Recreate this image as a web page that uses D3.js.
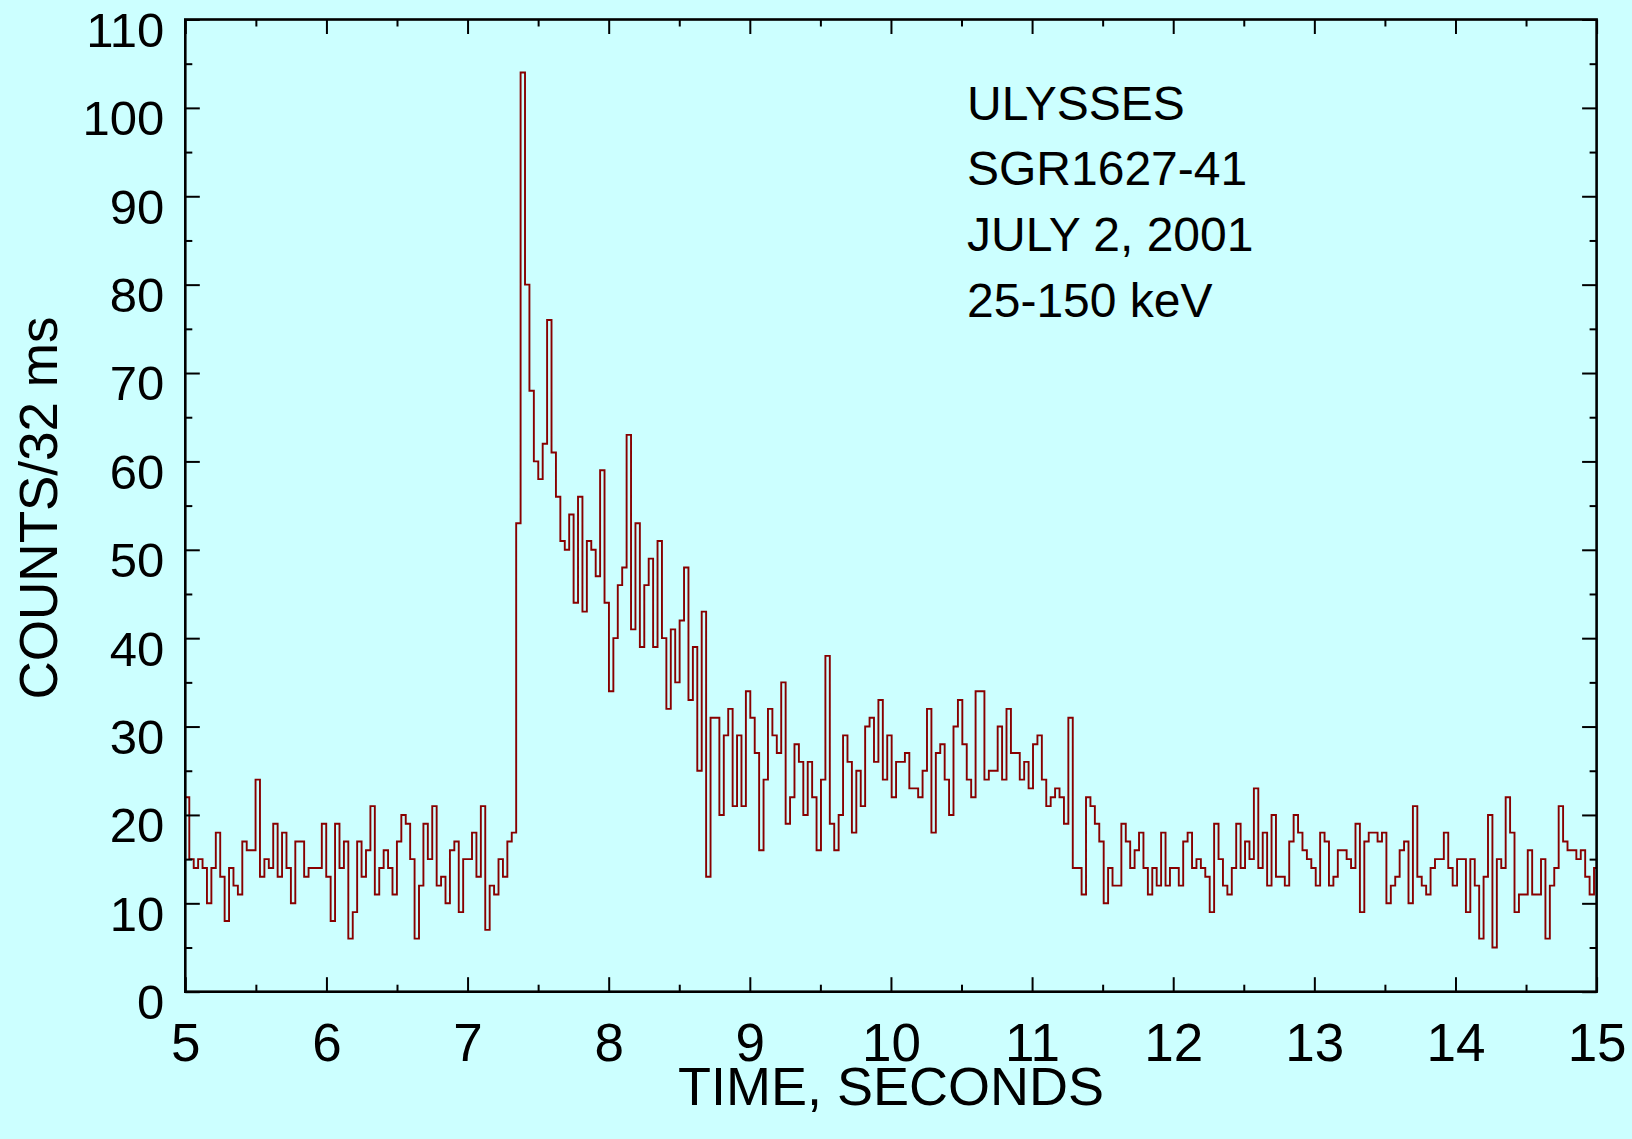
<!DOCTYPE html>
<html>
<head>
<meta charset="utf-8">
<script src="https://cdn.jsdelivr.net/npm/d3@7"></script>
<style>
  body { margin: 0; background: #ccffff; }
  svg { display: block; }
  text { font-family: "Liberation Sans", Arial, sans-serif; fill: #000; }
</style>
</head>
<body>
<div class="content"></div>
<script>
// counts per bin left to right
const counts = [
  22, 15, 14, 15, 14, 10, 14, 18, 13, 8, 14, 12, 11, 17, 16, 16, 24, 13, 15, 14, 19, 13, 18, 14, 10, 17, 17, 13, 14, 14, 14, 19,
  13, 8, 19, 14, 17, 6, 9, 17, 13, 16, 21, 11, 14, 16, 14, 11, 17, 20, 19, 15, 6, 12, 19, 15, 21, 12, 13, 10, 16, 17, 9, 15, 15,
  18, 13, 21, 7, 12, 11, 15, 13, 17, 18, 53, 104, 80, 68, 60, 58, 62, 76, 61, 56, 51, 50, 54, 44, 56, 43, 51, 50, 47, 59, 44,
  34, 40, 46, 48, 63, 41, 53, 39, 46, 49, 39, 51, 40, 32, 41, 35, 42, 48, 33, 39, 25, 43, 13, 31, 31, 20, 29, 32, 21, 29, 21, 34,
  31, 27, 16, 24, 32, 29, 27, 35, 19, 22, 28, 26, 20, 26, 22, 16, 24, 38, 19, 16, 20, 29, 26, 18, 25, 21, 30, 31, 26, 33, 24, 29, 22,
  26, 26, 27, 23, 23, 22, 25, 32, 18, 27, 28, 24, 20, 30, 33, 28, 24, 22, 34, 34, 24, 25, 25, 30, 24, 32, 27, 27, 24, 26, 23,
  28, 29, 24, 21, 22, 23, 22, 19, 31, 14, 14, 11, 22, 21, 19, 17, 10, 14, 12, 12, 19, 17, 14, 16, 18, 14, 11, 14, 12, 18, 12, 14,
  14, 12, 17, 18, 14, 15, 14, 13, 9, 19, 15, 12, 11, 14, 19, 14, 17, 15, 23, 14, 18, 12, 20, 13, 13, 12, 17, 20, 18, 16, 15, 14,
  12, 18, 17, 12, 13, 16, 16, 15, 14, 19, 9, 17, 18, 18, 17, 18, 10, 12, 13, 16, 17, 10, 21, 13, 12, 11, 14, 15, 15, 18, 14,
  12, 15, 15, 9, 15, 12, 6, 13, 20, 5, 15, 14, 22, 18, 9, 11, 11, 16, 11, 11, 15, 6, 12, 14, 21, 17, 16, 16, 15, 16, 13, 11, 14
];
const t0 = 4.997;       // start of first bin, s
const binWidth = 0.0313; // s
const xTicks = d3.range(5, 16);
const xMinor = d3.range(5.5, 15, 1);
const yTicks = d3.range(0, 111, 10);
const yMinor = d3.range(5, 110, 10);
const infoLines = ['ULYSSES', 'SGR1627-41', 'JULY 2, 2001', '25-150 keV'];

const [svgWidth, svgHeight] = [1632, 1139];
const svg = d3.select('.content')
  .append('svg')
  .attr('width', svgWidth)
  .attr('height', svgHeight);

svg.append('rect')
  .attr('width', svgWidth)
  .attr('height', svgHeight)
  .attr('fill', '#ccffff');

const [pl, pr, pt, pb] = [185.3, 1596.6, 19.5, 991.7];
const x = d3.scaleLinear().domain([5, 15]).range([pl, pr]);
const y = d3.scaleLinear().domain([0, 110]).range([pb, pt]);

svg.append('clipPath')
  .attr('id', 'plot-clip')
  .append('rect')
  .attr('x', pl)
  .attr('y', pt)
  .attr('width', pr - pl)
  .attr('height', pb - pt);

// step trace
const pts = counts.map((c, i) => [t0 + i*binWidth, c]);
pts.push([t0 + counts.length*binWidth, counts[counts.length - 1]]);
const line = d3.line()
  .x(d => x(d[0]))
  .y(d => y(d[1]))
  .curve(d3.curveStepAfter);
svg.append('path')
  .datum(pts)
  .attr('clip-path', 'url(#plot-clip)')
  .attr('fill', 'none')
  .attr('stroke', '#880000')
  .attr('stroke-width', 1.9)
  .attr('d', line);

const major = 14.5, minor = 7;
const putAxis = (axis, tx, ty, fs) => {
  const g = svg.append('g')
    .attr('transform', `translate(${tx},${ty})`)
    .call(axis);
  g.select('.domain').remove();
  g.selectAll('line').attr('stroke', '#000').attr('stroke-width', 2);
  g.attr('font-family', null).attr('font-size', null);
  if (fs) g.selectAll('text').style('font-size', fs + 'px');
  return g;
};

// bottom
putAxis(d3.axisBottom(x).tickValues(xTicks).tickSize(-major).tickPadding(32), 0, pb, 53);
putAxis(d3.axisBottom(x).tickValues(xMinor).tickSize(-minor).tickFormat(''), 0, pb);
// top
putAxis(d3.axisTop(x).tickValues(xTicks).tickSize(-major).tickFormat(''), 0, pt);
putAxis(d3.axisTop(x).tickValues(xMinor).tickSize(-minor).tickFormat(''), 0, pt);
// left
putAxis(d3.axisLeft(y).tickValues(yTicks).tickSize(-major).tickPadding(21), pl, 0, 49)
  .selectAll('text').attr('dy', '0.55em');
putAxis(d3.axisLeft(y).tickValues(yMinor).tickSize(-minor).tickFormat(''), pl, 0);
// right
putAxis(d3.axisRight(y).tickValues(yTicks).tickSize(-major).tickFormat(''), pr, 0);
putAxis(d3.axisRight(y).tickValues(yMinor).tickSize(-minor).tickFormat(''), pr, 0);

// frame
svg.append('rect')
  .attr('x', pl)
  .attr('y', pt)
  .attr('width', pr - pl)
  .attr('height', pb - pt)
  .attr('fill', 'none')
  .attr('stroke', '#000')
  .attr('stroke-width', 2.6);

svg.append('text')
  .attr('x', (pl + pr) / 2)
  .attr('y', 1105)
  .attr('text-anchor', 'middle')
  .style('font-size', '54px')
  .text('TIME, SECONDS');

svg.append('text')
  .attr('transform', `translate(57,508) rotate(-90)`)
  .attr('text-anchor', 'middle')
  .style('font-size', '53px')
  .text('COUNTS/32 ms');

svg.selectAll('.info')
  .data(infoLines)
  .enter()
  .append('text')
  .classed('info', true)
  .attr('x', 967)
  .attr('y', (d, i) => 119.5 + 65.8*i)
  .style('font-size', '48px')
  .text(d => d);
</script>
</body>
</html>
